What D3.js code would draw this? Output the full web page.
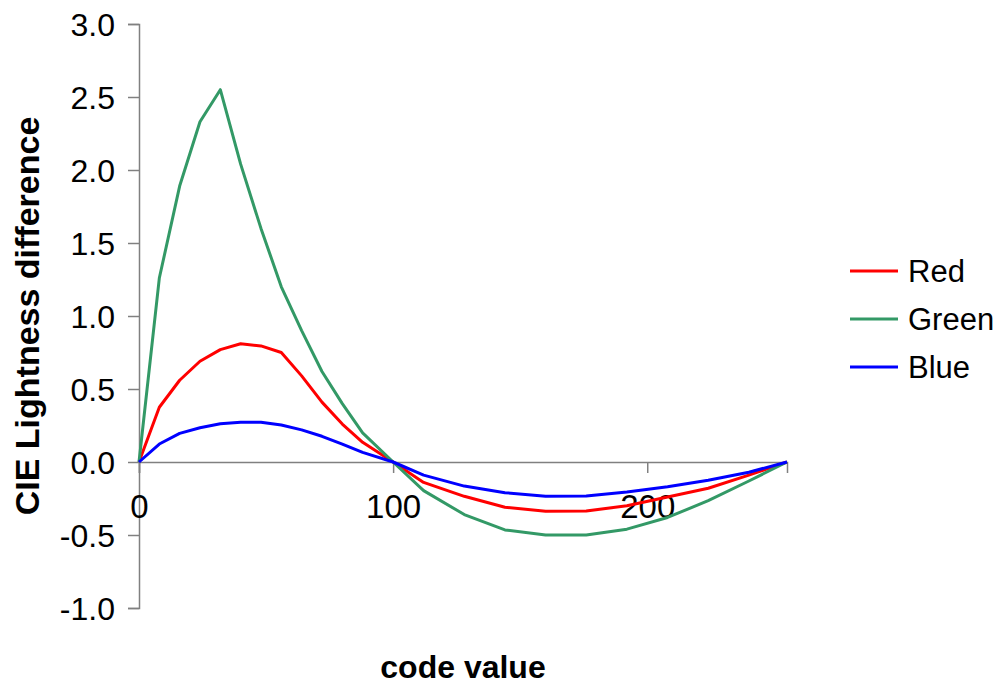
<!DOCTYPE html>
<html>
<head>
<meta charset="utf-8">
<script src="https://cdnjs.cloudflare.com/ajax/libs/d3/7.8.5/d3.min.js"></script>
<style>
  body { margin: 0; background: #fff; }
  text { font-family: "Liberation Sans", Arial, sans-serif; fill: #000; }
</style>
</head>
<body>
<div id="chart"></div>
<script>
const codes = [0, 8, 16, 24, 32, 40, 48, 56, 64, 72, 80, 88, 100, 112, 128, 144, 160, 176, 192, 208, 224, 240, 255]
const red = [0, 0.375, 0.56, 0.69, 0.77, 0.81, 0.795, 0.75, 0.59, 0.41, 0.26, 0.135, 0, -0.14, -0.235, -0.31, -0.337, -0.335, -0.3, -0.24, -0.18, -0.09, 0]
const green = [0, 1.26, 1.89, 2.33, 2.55, 2.04, 1.6, 1.2, 0.9, 0.62, 0.4, 0.2, 0, -0.196, -0.36, -0.465, -0.5, -0.5, -0.46, -0.38, -0.265, -0.13, 0]
const blue = [0, 0.123, 0.196, 0.235, 0.262, 0.272, 0.272, 0.253, 0.22, 0.176, 0.123, 0.066, 0, -0.09, -0.165, -0.21, -0.235, -0.233, -0.205, -0.17, -0.125, -0.07, 0]
const seriesNames = ['Red', 'Green', 'Blue']
const yTicks = [-1, -0.5, 0, 0.5, 1, 1.5, 2, 2.5, 3]
const xTicks = [0, 100, 200]

const width = 999
const height = 684
const AXIS_COLOR = '#808080'
const colors = {Red: '#ff0000', Green: '#339966', Blue: '#0000ff'}
const values = {Red: red, Green: green, Blue: blue}

const x = d3.scaleLinear().domain([0, 255]).range([139, 787])
const y = d3.scaleLinear().domain([-1, 3]).range([608, 24])

const svg = d3.select('#chart').append('svg')
  .attr('width', width).attr('height', height)

// y axis
const yAxis = svg.append('g')
  .attr('transform', `translate(${x(0)},0)`)
  .call(d3.axisLeft(y).tickValues(yTicks).tickSize(11).tickPadding(13).tickFormat(d => d.toFixed(1)))
yAxis.select('.domain').attr('stroke', AXIS_COLOR).attr('stroke-width', 1.5)
yAxis.selectAll('.tick line').attr('stroke', AXIS_COLOR).attr('stroke-width', 1.5)
yAxis.selectAll('.tick text')
  .attr('font-size', 32).attr('font-family', '"Liberation Sans", Arial, sans-serif')
  .attr('fill', '#000').attr('dy', '0.35em')

// x axis along zero
const xAxis = svg.append('g')
  .attr('transform', `translate(0,${y(0)})`)
  .call(d3.axisBottom(x).tickValues(xTicks).tickSize(11).tickPadding(22).tickFormat(d3.format('d')))
xAxis.select('.domain').attr('stroke', AXIS_COLOR).attr('stroke-width', 1.5)
xAxis.selectAll('.tick line').attr('stroke', AXIS_COLOR).attr('stroke-width', 1.5)
xAxis.selectAll('.tick text')
  .attr('font-size', 33).attr('font-family', '"Liberation Sans", Arial, sans-serif')
  .attr('fill', '#000')

// lines
const line = d3.line().x((d, i) => x(codes[i])).y(d => y(d))
seriesNames.forEach(name => {
  svg.append('path')
    .datum(values[name])
    .attr('fill', 'none')
    .attr('stroke', colors[name])
    .attr('stroke-width', 3)
    .attr('stroke-linejoin', 'round')
    .attr('d', line)
})

// axis titles
svg.append('text')
  .attr('x', 463).attr('y', 678)
  .attr('text-anchor', 'middle')
  .attr('font-size', 32).attr('font-weight', 'bold')
  .text('code value')

svg.append('text')
  .attr('transform', 'translate(39,316) rotate(-90)')
  .attr('text-anchor', 'middle')
  .attr('font-size', 34).attr('font-weight', 'bold')
  .text('CIE Lightness difference')

// legend
const legend = svg.selectAll('g.legend_item')
  .data(seriesNames)
  .enter()
  .append('g')
  .classed('legend_item', true)
  .attr('transform', (d, i) => `translate(850, ${271 + i * 48})`)
legend.append('line')
  .attr('x1', 0).attr('x2', 48).attr('y1', 0).attr('y2', 0)
  .attr('stroke', d => colors[d]).attr('stroke-width', 3)
legend.append('text')
  .attr('x', 58).attr('dy', '0.35em')
  .attr('font-size', 31)
  .text(d => d)
</script>
</body>
</html>
